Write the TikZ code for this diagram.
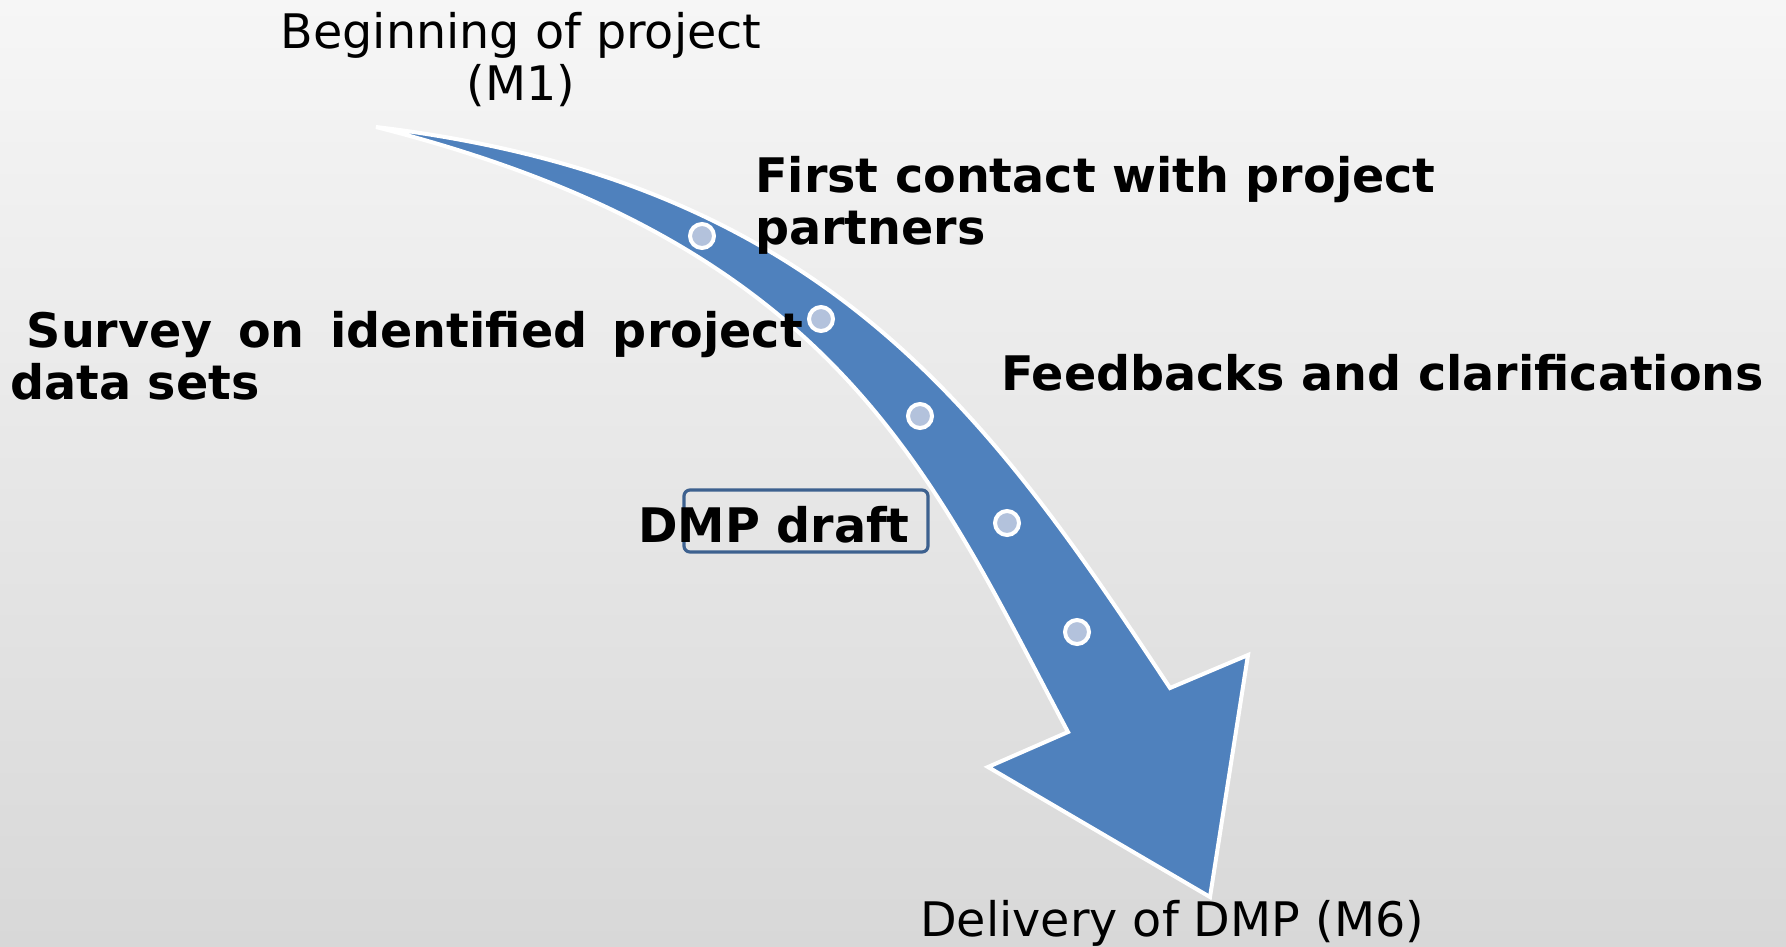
\documentclass[tikz,border=0pt]{standalone}
\usepackage{fontspec}
\setmainfont{DejaVu Sans}
\definecolor{arrowblue}{HTML}{4F81BD}
\definecolor{dotfill}{HTML}{B3C2DC}
\definecolor{boxline}{HTML}{3D618F}
\definecolor{bgtop}{HTML}{F6F6F6}
\definecolor{bgmid}{HTML}{E7E7E7}
\definecolor{bgbot}{HTML}{D8D8D8}
\tikzset{
  lbl/.style={inner sep=0pt, text=black, font=\fontsize{47.6}{52}\selectfont},
  lblb/.style={inner sep=0pt, text=black, font=\fontsize{47.6}{52}\selectfont\bfseries},
  milestone/.style={circle, draw=white, line width=4pt, fill=dotfill,
    minimum size=24pt, inner sep=0pt},
  draftframe/.style={draw=boxline, line width=3.2pt, rounded corners=6pt,
    minimum width=244pt, minimum height=62pt, inner sep=0pt},
  bigarrow/.style={fill=arrowblue, draw=white, line width=4pt, line join=miter}
}
\begin{document}
\begin{tikzpicture}[x=1pt, y=-1pt]
  % page and background
  \useasboundingbox (0,0) rectangle (1786,946);
  \shade[top color=bgtop, middle color=bgmid, bottom color=bgbot] (0,0) rectangle (1786,946);

  % curved timeline arrow: outer edge, head, inner edge
  \path[bigarrow]
    (376,127) .. controls (826,181) and (988,413) .. (1170,688)
    -- (1248,655) -- (1210,897) -- (988,767) -- (1068,732)
    .. controls (930,472) and (838,244) .. (376,127)
    -- cycle;

  % milestones on the arrow
  \node[milestone] (m1) at (702,236) {};
  \node[milestone] (m2) at (821,319) {};
  \node[milestone] (m3) at (920,416) {};
  \node[milestone] (m4) at (1007,523) {};
  \node[milestone] (m5) at (1077,632) {};

  % labels (multi-line nodes are placed by their last baseline)
  \node[lbl, anchor=base, align=center] (start) at (521,100) {Beginning of project\\(M1)};
  \node[lblb, anchor=base west, align=left] (contact) at (755,244) {First contact with project\\partners};
  \node[lblb, anchor=base west, align=left] (survey) at (10,399)
    {\hspace*{16.6pt}\makebox[776pt][s]{Survey on identified project}\\data sets};
  \node[lblb, anchor=base west] (feedback) at (1001,390) {Feedbacks and clarifications};
  \node[draftframe] (draftbox) at (806,521) {};
  \node[lblb, anchor=base west] (draft) at (638,542) {DMP draft};
  \node[lbl, anchor=base west] (delivery) at (920,936) {Delivery of DMP (M6)};
\end{tikzpicture}
\end{document}
